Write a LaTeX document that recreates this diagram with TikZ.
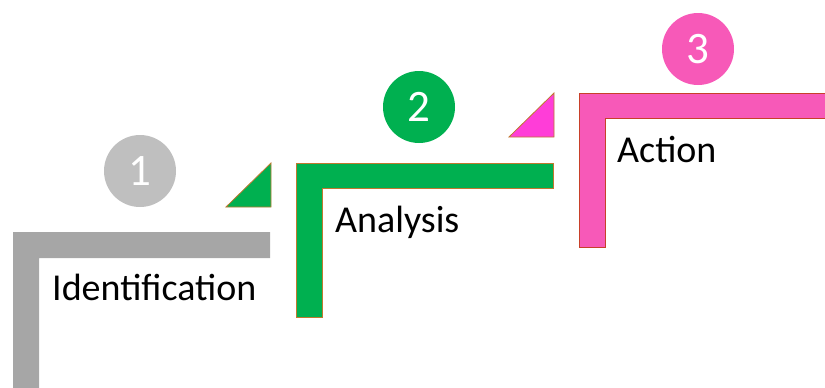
\documentclass[tikz,border=0pt]{standalone}
\usepackage{fontspec}
\setmainfont{Carlito}
\definecolor{stepgray}{HTML}{A6A6A6}
\definecolor{numgray}{HTML}{BFBFBF}
\definecolor{stepgreen}{HTML}{00B050}
\definecolor{steppink}{HTML}{F759B8}
\definecolor{tripink}{HTML}{FF3DD8}
\definecolor{edgebrown}{HTML}{C0782E}
\definecolor{edgered}{HTML}{C8402A}
\tikzset{
  numbadge/.style={circle, minimum size=72pt, inner sep=0pt, text=white,
    font=\fontsize{45}{48}\selectfont},
  steplabel/.style={anchor=base west, inner sep=0pt,
    font=\fontsize{38}{42}\selectfont},
  corner/.style={line width=0.8pt, line join=miter},
}
\begin{document}
\begin{tikzpicture}[x=1pt,y=-1pt]
\useasboundingbox (0,0) rectangle (825,388);

% step 1: grey corner bar
\fill[stepgray] (13,390) -- (13,232) -- (270,232) -- (270,258) -- (39,258) -- (39,390) -- cycle;
\node[numbadge, fill=numgray] (n1) at (140,171) {1};
\node[steplabel] (t1) at (52,300) {Identification};

% step 2: green corner bar with its small wedge
\draw[corner, fill=stepgreen, draw=edgebrown] (226,207) -- (271,207) -- (271,163) -- cycle;
\draw[corner, fill=stepgreen, draw=edgebrown] (296,317) -- (296,163) -- (553,163) -- (553,188) -- (322,188) -- (322,317) -- cycle;
\node[numbadge, fill=stepgreen] (n2) at (419,107) {2};
\node[steplabel] (t2) at (335,232) {Analysis};

% step 3: pink corner bar with its small wedge
\draw[corner, fill=tripink, draw=edgebrown] (509,137) -- (554,137) -- (554,93) -- cycle;
\draw[corner, fill=steppink, draw=edgered] (579,247) -- (579,93) -- (830,93) -- (830,118) -- (605,118) -- (605,247) -- cycle;
\node[numbadge, fill=steppink] (n3) at (698,49) {3};
\node[steplabel] (t3) at (617,162) {Action};
\end{tikzpicture}
\end{document}
